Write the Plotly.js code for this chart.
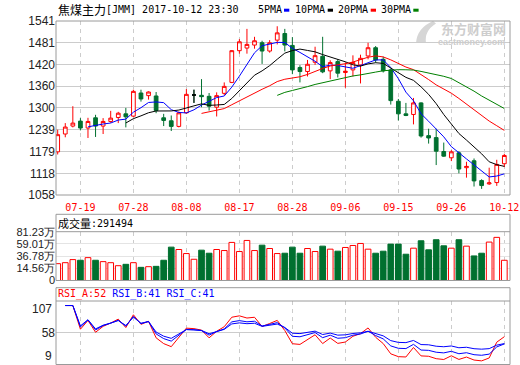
<!DOCTYPE html>
<html><head><meta charset="utf-8">
<script src="https://cdn.plot.ly/plotly-3.0.1.min.js"></script>
<style>html,body{margin:0;padding:0;background:#fff}#chart{width:520px;height:365px}</style>
</head><body><div id="chart"></div>
<script>
// ---- data ----
const dates = ['07-14','07-17','07-18','07-19','07-20','07-21','07-24','07-25','07-26','07-27',
'07-28','07-31','08-01','08-02','08-03','08-04','08-07','08-08','08-09','08-10',
'08-11','08-14','08-15','08-16','08-17','08-18','08-21','08-22','08-23','08-24',
'08-25','08-28','08-29','08-30','08-31','09-01','09-04','09-05','09-06','09-07',
'09-08','09-11','09-12','09-13','09-14','09-15','09-18','09-19','09-20','09-21',
'09-22','09-25','09-26','09-27','09-28','09-29','10-09','10-10','10-11','10-12'];
const openPrice = [1177.8,1227.3,1249.4,1263.1,1243.9,1272.3,1249.4,1262.2,1273.2,1283.3,
1276.9,1341.1,1333.8,1332.9,1272.3,1264.0,1248.4,1286.1,1335.6,1334.7,
1331.9,1301.7,1340.2,1370.5,1458.6,1465.9,1474.2,1480.6,1457.6,1487.9,
1506.3,1473.2,1411.8,1400.7,1426.5,1443.0,1402.6,1428.3,1398.0,1405.3,
1419.1,1443.9,1466.8,1434.7,1405.3,1318.2,1283.3,1281.5,1313.6,1222.8,
1217.3,1178.7,1161.3,1175.0,1133.8,1153.0,1098.0,1088.8,1092.5,1144.8];
const highPrice = [1239.3,1257.6,1304.4,1271.4,1272.3,1280.6,1271.4,1291.6,1288.8,1299.8,
1350.3,1350.3,1345.7,1343.9,1283.3,1278.7,1289.7,1352.1,1350.3,1379.7,
1341.1,1343.0,1370.5,1460.5,1490.7,1519.1,1497.1,1486.1,1487.9,1526.4,
1519.1,1496.2,1418.2,1432.9,1469.6,1497.1,1431.9,1434.7,1425.6,1445.7,
1447.5,1480.6,1471.4,1442.0,1409.0,1324.6,1313.6,1327.4,1315.4,1242.0,
1242.0,1203.5,1182.4,1179.6,1150.3,1159.4,1101.6,1133.8,1155.8,1172.3];
const lowPrice = [1170.5,1218.2,1245.7,1237.4,1216.3,1219.1,1227.3,1258.5,1257.6,1245.7,
1274.1,1317.3,1322.8,1285.1,1249.4,1235.6,1245.7,1283.3,1313.6,1301.7,
1292.5,1276.0,1335.6,1368.6,1450.3,1450.3,1464.1,1421.9,1453.1,1476.0,
1456.7,1393.4,1370.5,1387.0,1419.1,1396.2,1379.6,1384.2,1355.8,1387.0,
1367.7,1434.7,1425.6,1398.0,1309.0,1265.0,1276.9,1254.0,1217.3,1200.7,
1141.1,1164.0,1152.1,1118.2,1106.2,1081.5,1075.0,1086.1,1083.3,1135.6];
const closePrice = [1225.5,1246.6,1257.6,1243.9,1262.2,1249.4,1262.2,1271.4,1285.1,1275.0,
1345.7,1324.6,1343.9,1292.5,1265.0,1248.4,1286.1,1337.4,1335.6,1331.0,
1304.4,1333.8,1359.5,1458.6,1483.3,1476.0,1486.1,1457.6,1480.6,1508.1,
1474.2,1405.3,1400.7,1420.9,1444.8,1399.8,1425.6,1396.2,1401.7,1425.6,
1437.5,1466.8,1432.9,1402.6,1320.0,1283.3,1278.7,1313.6,1221.8,1216.3,
1179.6,1165.9,1177.8,1130.1,1137.4,1097.1,1084.2,1091.6,1142.9,1167.7];
// volume in 万 (10k)
const volume = [23.0,24.8,30.4,29.2,34.0,29.2,26.7,24.8,19.3,21.8,
24.8,16.3,17.5,18.1,29.2,53.1,48.8,41.4,31.0,47.6,
42.0,48.8,46.9,61.7,45.1,65.3,46.9,56.7,50.6,41.4,
42.0,53.1,42.0,50.6,45.1,54.9,49.4,45.7,52.5,56.1,
59.8,49.4,42.0,45.7,58.6,58.6,40.2,51.2,64.7,48.2,
66.6,55.5,51.2,66.6,54.9,37.1,42.0,62.3,70.9,29.15];
const xTickLabels = ['07-19','07-28','08-08','08-17','08-28','09-06','09-15','09-26','10-12'];
const priceTickLabels = [1058,1118,1179,1239,1300,1360,1420,1481,1541];
const volTickValues = [-7.67,14.56,36.78,59.01,81.23];
const volTickLabels = ['0','14.56万','36.78万','59.01万','81.23万'];
const rsiTickLabels = [107,58,9];
const maPeriods = [5,10,20,30];
const maNames = ['5PMA','10PMA','20PMA','30PMA'];
const maColors = ['#0000ff','#000000','#ff0000','#008000'];
const rsiPeriods = [6,12,24];
const rsiColors = ['#ff0000','#0000ff','#0000ff'];
const rsiHeader = ['RSI_A:52','RSI_B:41','RSI_C:41'];
const volHeader = ':291494';

// ---- indicators computed from the candle data ----
function movingAverage(arr, n){
  return arr.map((_, i) => {
    if (i < n-1) return null;
    let s = 0; for (let k = i-n+1; k <= i; k++) s += arr[k];
    return s / n;
  });
}
function rsi(arr, n){
  const out = [null]; let up = 0, ab = 0;
  for (let i = 1; i < arr.length; i++){
    const d = arr[i] - arr[i-1];
    up = (Math.max(d,0) + (n-1)*up)/n;
    ab = (Math.abs(d) + (n-1)*ab)/n;
    out.push(ab === 0 ? null : up/ab*100);
  }
  return out;
}

// ---- geometry helpers (pixel -> paper) ----
const W = 520, H = 365, L = 56, R = 10;
const px = x => (x - L) / (W - L - R);
const py = y => 1 - y / H;

const RED = '#ff0000', GREEN = '#00702f', GRID = '#cccccc', BORDER = '#9a9a9a';
const up = closePrice.map((c,i) => c >= openPrice[i]);
const volBase = volTickValues[0];

const traces = [];
traces.push({
  type:'candlestick', x:dates, open:openPrice, high:highPrice, low:lowPrice, close:closePrice,
  xaxis:'x', yaxis:'y', whiskerwidth:0, hoverinfo:'skip',
  increasing:{line:{color:RED,width:1}, fillcolor:'#ffffff'},
  decreasing:{line:{color:GREEN,width:1}, fillcolor:GREEN}
});
const dojiIdx = dates.map((d,i)=>i).filter(i => openPrice[i] === closePrice[i]);
if (dojiIdx.length){
  traces.push({
    type:'candlestick', x:dojiIdx.map(i=>dates[i]), open:dojiIdx.map(i=>openPrice[i]),
    high:dojiIdx.map(i=>highPrice[i]), low:dojiIdx.map(i=>lowPrice[i]), close:dojiIdx.map(i=>closePrice[i]),
    xaxis:'x', yaxis:'y', whiskerwidth:0, hoverinfo:'skip',
    increasing:{line:{color:'#000',width:1}, fillcolor:'#000'},
    decreasing:{line:{color:'#000',width:1}, fillcolor:'#000'}
  });
}
maPeriods.forEach((n,k) => {
  traces.push({type:'scatter', mode:'lines', x:dates, y:movingAverage(closePrice,n),
    line:{color:maColors[k], width:1}, xaxis:'x', yaxis:'y', hoverinfo:'skip', connectgaps:false});
});
traces.push({
  type:'bar', x:dates, y:volume.map(v => v - volBase), base:volBase, xaxis:'x', yaxis:'y2',
  marker:{color:up.map(u => u ? '#ffffff' : GREEN), line:{color:up.map(u => u ? RED : GREEN), width:1}},
  hoverinfo:'skip'
});
rsiPeriods.forEach((n,k) => {
  traces.push({type:'scatter', mode:'lines', x:dates, y:rsi(closePrice,n),
    line:{color:rsiColors[k], width:1}, xaxis:'x', yaxis:'y3', hoverinfo:'skip'});
});

const tickFont = {family:'Liberation Sans, Arial, sans-serif', size:12, color:'#222'};
const volFont = {family:'Liberation Sans, Arial, sans-serif', size:11, color:'#222'};
const mono = 'DejaVu Sans Mono, monospace';
const cjk = 'Noto Sans CJK SC, sans-serif';

const shapes = [];
function box(y0, y1){
  shapes.push({type:'rect', xref:'paper', yref:'paper', x0:0, x1:1, y0:py(y1), y1:py(y0),
    line:{color:BORDER, width:1}, fillcolor:'rgba(0,0,0,0)', layer:'above'});
}
box(21, 195);
box(214.3, 280.5);
box(287.7, 364.5);
shapes.push({type:'line', xref:'paper', yref:'paper', x0:0, x1:1, y0:py(231.7), y1:py(231.7), line:{color:BORDER,width:1}});
shapes.push({type:'line', xref:'paper', yref:'paper', x0:0, x1:1, y0:py(301), y1:py(301), line:{color:BORDER,width:1}});
// legend colour keys
const keyX = [284, 327.7, 370.7, 413.3];
keyX.forEach((x,k) => shapes.push({type:'rect', xref:'paper', yref:'paper', x0:px(x), x1:px(x+5.3),
  y0:py(11.7), y1:py(8.7), line:{width:0}, fillcolor:maColors[k]}));
// watermark logo
shapes.push({type:'path', xref:'paper', yref:'paper', layer:'below',
  path:`M ${px(416)} ${py(43)} Q ${px(417)} ${py(28)} ${px(433)} ${py(21)} L ${px(436)} ${py(23.5)} Q ${px(424)} ${py(31)} ${px(426)} ${py(43)} Z`,
  fillcolor:'#d6d6d6', line:{width:0}});

const ann = [];
function txt(x, y, text, font, anchor){
  ann.push({xref:'paper', yref:'paper', x:px(x), y:py(y), text, showarrow:false,
    xanchor:anchor || 'left', yanchor:'middle', font, borderpad:0});
}
txt(57, 9.5, '焦煤主力', {family:cjk, size:12, color:'#000'});
txt(105, 9.5, '[JMM] 2017-10-12 23:30', {family:mono, size:10, color:'#000'});
const maLabelX = [257.3, 294.3, 337.3, 380.3];
maNames.forEach((t,k) => txt(maLabelX[k], 9.5, t, {family:mono, size:10, color:'#000'}));
txt(57, 223.3, '成交量', {family:cjk, size:11, color:'#000'});
txt(90, 223.3, volHeader, {family:mono, size:10, color:'#000'});
txt(57, 293.8, `<span style="color:${rsiColors[0]}">${rsiHeader[0]}</span> <span style="color:${rsiColors[1]}">${rsiHeader[1]} ${rsiHeader[2]}</span>`,
  {family:mono, size:10, color:'#000'});
txt(53, 309, String(rsiTickLabels[0]), tickFont, 'right');
txt(53, 355.7, String(rsiTickLabels[2]), tickFont, 'right');
txt(440, 28.5, '<b>东方财富网</b>', {family:cjk, size:13, color:'#cdcdcd'});
txt(437, 41.5, '<b>eastmoney.com</b>', {family:'Liberation Sans, Arial, sans-serif', size:9, color:'#cdcdcd'});

const layout = {
  width:W, height:H, margin:{l:L, r:R, t:0, b:0, pad:0},
  paper_bgcolor:'#ffffff', plot_bgcolor:'#ffffff', showlegend:false,
  font:tickFont, bargap:0.25, hovermode:false,
  xaxis:{type:'category', range:[-0.225, 59.75], tickvals:xTickLabels, ticktext:xTickLabels,
    showgrid:true, gridcolor:GRID, griddash:'4px,4px', gridwidth:1, zeroline:false, showline:false,
    ticks:'', ticklabelstandoff:5, tickfont:{family:mono, size:10, color:RED}, rangeslider:{visible:false}, fixedrange:true},
  yaxis:{domain:[py(195), py(21)], range:[1058,1541], tickvals:priceTickLabels, ticktext:priceTickLabels.map(String),
    showgrid:true, gridcolor:GRID, zeroline:false, showline:false, ticks:'', tickfont:tickFont, fixedrange:true},
  yaxis2:{domain:[py(280.5), py(231.7)], range:[volTickValues[0], volTickValues[4]], tickvals:volTickValues,
    ticktext:volTickLabels, showgrid:true, gridcolor:'#e4e4e4', zeroline:false, showline:false, ticks:'',
    tickfont:volFont, anchor:'x', fixedrange:true},
  yaxis3:{domain:[py(364.5), py(301)], range:[9,107], tickvals:[rsiTickLabels[1]], ticktext:[String(rsiTickLabels[1])],
    showgrid:true, gridcolor:GRID, zeroline:false, showline:false, ticks:'', tickfont:tickFont, anchor:'x', fixedrange:true},
  shapes, annotations:ann
};
Plotly.newPlot('chart', traces, layout, {displayModeBar:false, staticPlot:true});
</script></body></html>
